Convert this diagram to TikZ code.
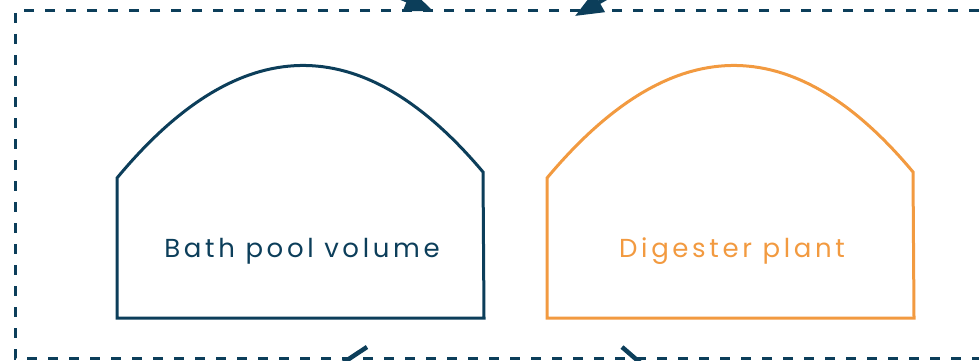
\documentclass[tikz,border=0pt]{standalone}
\usepackage{fontspec}
\usepackage{xcolor}
\usetikzlibrary{arrows.meta}

\newfontfamily\labelfont{Poppins}[LetterSpace=14]

\definecolor{poolblue}{RGB}{12,62,90}
\definecolor{plantorange}{RGB}{242,154,64}

\begin{document}
\begin{tikzpicture}[x=1pt,y=-1pt]

% ============================================================
% parameters
% ============================================================

\def\Lw{3pt}        % outline width
\def\Base{318}      % bottom edge of both tanks

\tikzset{
  tank/.style={line width=\Lw, line join=miter},
  tanklabel/.style={font=\labelfont\fontsize{26}{30}\selectfont, inner sep=0pt, anchor=base},
  flow/.style={line width=4pt, color=poolblue, -{Triangle[length=28pt,width=22pt]}},
  flowout/.style={line width=4.5pt, color=poolblue}
}

\useasboundingbox (0,0) rectangle (979,361);
\clip (0,0) rectangle (979,361);

% ============================================================
% system boundary
% ============================================================

\draw[poolblue, line width=3pt, dash pattern=on 10pt off 11pt]
  (1000,11) -- (15,11) -- (15,358) -- (1000,358);

% ============================================================
% bath pool
% ============================================================

\draw[tank, poolblue]
  (117,\Base) -- (117,178) .. controls (239,31) and (361,27) .. (483,172)
  -- (484,\Base) -- cycle;
\node[tanklabel, text=poolblue] (bath) at (302,257) {Bath pool volume};

% ============================================================
% digester plant
% ============================================================

\draw[tank, plantorange]
  (547,\Base) -- (547,178) .. controls (670,31) and (792,27) .. (913,172)
  -- (914,\Base) -- cycle;
\node[tanklabel, text=plantorange] (digester) at (732,257) {Digester plant};

% ============================================================
% flows across the boundary
% ============================================================

\coordinate (inA)  at (324,-33);
\coordinate (tipA) at (433,11);
\coordinate (inB)  at (659,-32);
\coordinate (tipB) at (575,16);
\draw[flow] (inA) -- (tipA);
\draw[flow] (inB) -- (tipB);

\coordinate (outA)  at (367,347);
\coordinate (endA)  at (320,378);
\coordinate (outB)  at (622,347);
\coordinate (endB)  at (660,380);
\draw[flowout] (outA) -- (endA);
\draw[flowout] (outB) -- (endB);

\end{tikzpicture}
\end{document}
